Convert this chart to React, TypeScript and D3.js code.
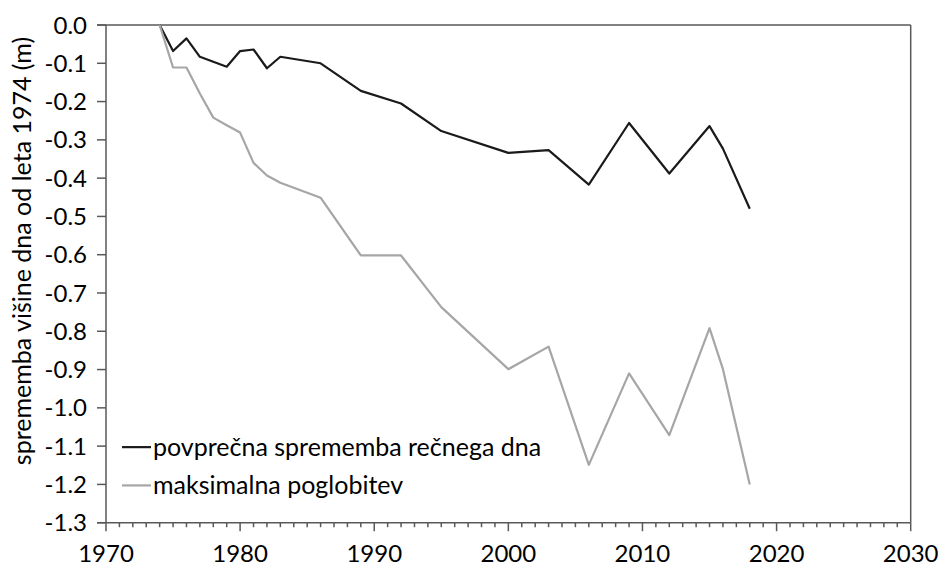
import React from "react";
import * as d3 from "d3";

const years = [1974, 1975, 1976, 1977, 1978, 1979, 1980, 1981, 1982, 1983, 1986, 1989, 1992, 1995, 2000, 2003, 2006, 2009, 2012, 2015, 2016, 2018];
const meanChange = [0, -0.068, -0.035, -0.083, -0.096, -0.109, -0.068, -0.064, -0.113, -0.083, -0.1, -0.172, -0.205, -0.277, -0.334, -0.327, -0.417, -0.256, -0.388, -0.264, -0.323, -0.48];
const maxDeepening = [0, -0.111, -0.111, -0.179, -0.242, -0.262, -0.281, -0.36, -0.393, -0.412, -0.451, -0.602, -0.602, -0.737, -0.899, -0.84, -1.149, -0.91, -1.071, -0.792, -0.899, -1.2];
const yTicks = [0, -0.1, -0.2, -0.3, -0.4, -0.5, -0.6, -0.7, -0.8, -0.9, -1.0, -1.1, -1.2, -1.3];
const xMajor = [1970, 1980, 1990, 2000, 2010, 2020, 2030];
const seriesNames = ["povprečna sprememba rečnega dna", "maksimalna poglobitev"];
const seriesColors = ["#1a1a1a", "#a6a6a6"];
const yTitle = "sprememba višine dna od leta 1974 (m)";

const W = 939, H = 567;
const L = 106, R = 910.7, T = 25, B = 522.7;
const FONT = "Lato, 'Open Sans', sans-serif";
const AXIS = "#595959";

export default function App() {
  const x = d3.scaleLinear().domain([1970, 2030]).range([L, R]);
  const y = d3.scaleLinear().domain([-1.3, 0]).range([B, T]);
  const line = d3.line<[number, number]>().x(d => x(d[0])).y(d => y(d[1]));
  const series = [meanChange, maxDeepening];
  const minor = d3.range(1970, 2031, 1);
  return (
    <svg width={W} height={H} style={{ position: "absolute", left: 0, top: 0, background: "#fff" }} fontFamily={FONT}>
      <line x1={L - 9} x2={R} y1={T} y2={T} stroke={AXIS} strokeWidth={1.5} />
      <line x1={R} x2={R} y1={T} y2={B} stroke={AXIS} strokeWidth={1.5} />
      <line x1={L} x2={L} y1={T} y2={B} stroke={AXIS} strokeWidth={1.5} />
      <line x1={L - 9} x2={R} y1={B} y2={B} stroke={AXIS} strokeWidth={1.5} />
      {yTicks.map(t => (
        <g key={t}>
          <line x1={L - 9} x2={L} y1={y(t)} y2={y(t)} stroke={AXIS} strokeWidth={1.5} />
          <text x={87} y={y(t)} dy="0.36em" textAnchor="end" fontSize={24} fill="#000">{t.toFixed(1)}</text>
        </g>
      ))}
      {minor.map(m => (
        <line key={m} x1={x(m)} x2={x(m)} y1={B} y2={B + (m % 10 === 0 ? 8.5 : 4.5)} stroke={AXIS} strokeWidth={1.5} />
      ))}
      {xMajor.map(t => (
        <text key={t} x={x(t)} y={562} textAnchor="middle" fontSize={24} fill="#000">{t}</text>
      ))}
      <text transform={`translate(31, 251) rotate(-90)`} textAnchor="middle" fontSize={25} fill="#000">{yTitle}</text>
      {series.map((s, i) => (
        <path key={i} d={line(years.map((yr, j) => [yr, s[j]] as [number, number])) || ""} fill="none" stroke={seriesColors[i]} strokeWidth={2.2} strokeLinejoin="round" />
      ))}
      {seriesNames.map((n, i) => (
        <g key={n}>
          <line x1={122} x2={151} y1={y(-1.1 - 0.1 * i) + 1} y2={y(-1.1 - 0.1 * i) + 1} stroke={seriesColors[i]} strokeWidth={2.2} />
          <text x={153} y={y(-1.1 - 0.1 * i) + 1} dy="0.36em" fontSize={25} fill="#000">{n}</text>
        </g>
      ))}
    </svg>
  );
}
